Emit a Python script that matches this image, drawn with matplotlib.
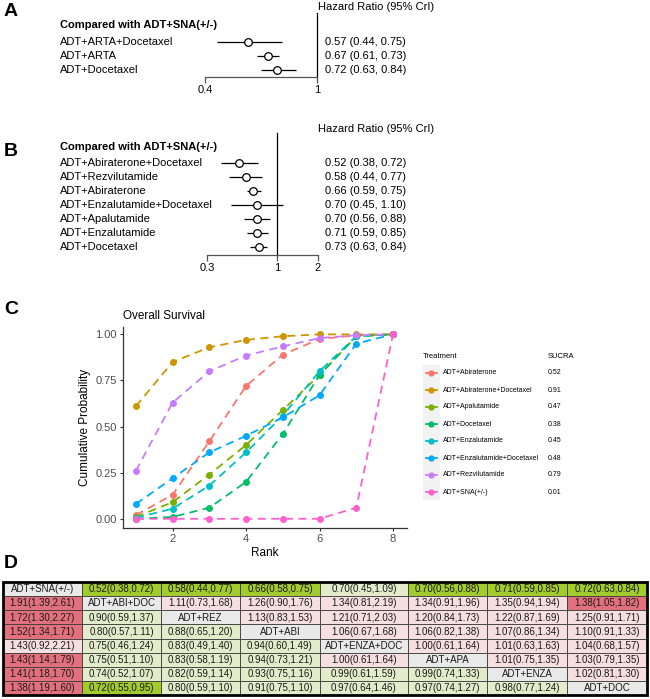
import re
import matplotlib
matplotlib.use('Agg')
import matplotlib.pyplot as plt
import matplotlib.transforms as mtransforms
from matplotlib.patches import Rectangle
from matplotlib.ticker import NullLocator

plt.rcParams['font.family'] = ['Liberation Sans', 'DejaVu Sans']

W, H = 650, 699

# ---- panel A data
a_labels = ['ADT+ARTA+Docetaxel', 'ADT+ARTA', 'ADT+Docetaxel']
a_hr = [0.57, 0.67, 0.72]
a_lo = [0.44, 0.61, 0.63]
a_hi = [0.75, 0.73, 0.84]

# ---- panel B data
b_labels = ['ADT+Abiraterone+Docetaxel', 'ADT+Rezvilutamide', 'ADT+Abiraterone',
            'ADT+Enzalutamide+Docetaxel', 'ADT+Apalutamide', 'ADT+Enzalutamide',
            'ADT+Docetaxel']
b_hr = [0.52, 0.58, 0.66, 0.70, 0.70, 0.71, 0.73]
b_lo = [0.38, 0.44, 0.59, 0.45, 0.56, 0.59, 0.63]
b_hi = [0.72, 0.77, 0.75, 1.10, 0.88, 0.85, 0.84]

# ---- panel C data
ranks = [1, 2, 3, 4, 5, 6, 7, 8]
treatments = ['ADT+Abiraterone', 'ADT+Abiraterone+Docetaxel', 'ADT+Apalutamide',
              'ADT+Docetaxel', 'ADT+Enzalutamide', 'ADT+Enzalutamide+Docetaxel',
              'ADT+Rezvilutamide', 'ADT+SNA(+/-)']
cum_abi = [0.02, 0.13, 0.42, 0.72, 0.89, 0.975, 0.995, 1.0]
cum_abi_doc = [0.61, 0.85, 0.93, 0.97, 0.99, 1.0, 1.0, 1.0]
cum_apa = [0.01, 0.09, 0.24, 0.40, 0.59, 0.78, 0.99, 1.0]
cum_doc = [0.0, 0.01, 0.06, 0.20, 0.46, 0.78, 0.99, 1.0]
cum_enza = [0.005, 0.055, 0.18, 0.36, 0.56, 0.80, 0.99, 1.0]
cum_enza_doc = [0.08, 0.22, 0.36, 0.45, 0.55, 0.67, 0.95, 1.0]
cum_rez = [0.26, 0.63, 0.80, 0.885, 0.935, 0.98, 0.995, 1.0]
cum_sna = [0.0, 0.0, 0.0, 0.0, 0.0, 0.0, 0.06, 1.0]
cum_probs = [cum_abi, cum_abi_doc, cum_apa, cum_doc, cum_enza, cum_enza_doc, cum_rez, cum_sna]
sucra = [0.52, 0.91, 0.47, 0.38, 0.45, 0.48, 0.79, 0.01]
hue = ['#F8766D', '#CD9600', '#7CAE00', '#00BE67', '#00BFC4', '#00A9FF', '#C77CFF', '#FF61CC']

# ---- panel D data
league = [
    ['ADT+SNA(+/-)', '0.52(0.38,0.72)', '0.58(0.44,0.77)', '0.66(0.58,0.75)', '0.70(0.45,1.09)', '0.70(0.56,0.88)', '0.71(0.59,0.85)', '0.72(0.63,0.84)'],
    ['1.91(1.39,2.61)', 'ADT+ABI+DOC', '1.11(0.73,1.68)', '1.26(0.90,1.76)', '1.34(0.81,2.19)', '1.34(0.91,1.96)', '1.35(0.94,1.94)', '1.38(1.05,1.82)'],
    ['1.72(1.30,2.27)', '0.90(0.59,1.37)', 'ADT+REZ', '1.13(0.83,1.53)', '1.21(0.71,2.03)', '1.20(0.84,1.73)', '1.22(0.87,1.69)', '1.25(0.91,1.71)'],
    ['1.52(1.34,1.71)', '0.80(0.57,1.11)', '0.88(0.65,1.20)', 'ADT+ABI', '1.06(0.67,1.68)', '1.06(0.82,1.38)', '1.07(0.86,1.34)', '1.10(0.91,1.33)'],
    ['1.43(0.92,2.21)', '0.75(0.46,1.24)', '0.83(0.49,1.40)', '0.94(0.60,1.49)', 'ADT+ENZA+DOC', '1.00(0.61,1.64)', '1.01(0.63,1.63)', '1.04(0.68,1.57)'],
    ['1.43(1.14,1.79)', '0.75(0.51,1.10)', '0.83(0.58,1.19)', '0.94(0.73,1.21)', '1.00(0.61,1.64)', 'ADT+APA', '1.01(0.75,1.35)', '1.03(0.79,1.35)'],
    ['1.41(1.18,1.70)', '0.74(0.52,1.07)', '0.82(0.59,1.14)', '0.93(0.75,1.16)', '0.99(0.61,1.59)', '0.99(0.74,1.33)', 'ADT+ENZA', '1.02(0.81,1.30)'],
    ['1.38(1.19,1.60)', '0.72(0.55,0.95)', '0.80(0.59,1.10)', '0.91(0.75,1.10)', '0.97(0.64,1.46)', '0.97(0.74,1.27)', '0.98(0.77,1.24)', 'ADT+DOC'],
]
col_widths = [79, 79, 79, 80, 88, 79, 80, 80]


def rect(x0, y0, x1, y1):
    return [x0 / W, 1 - y1 / H, (x1 - x0) / W, (y1 - y0) / H]


fig = plt.figure(figsize=(W / 100, H / 100), dpi=100)


def forest(box, labels, hr, lo, hi, ticks, row0, step, hdr_px, hrlab_px):
    x0, y0, x1, y1 = box
    ax = fig.add_axes(rect(*box))
    ax.set_xscale('log')
    rows = list(range(len(labels)))
    ax.hlines(rows, lo, hi, color='black', lw=0.9, clip_on=False)
    ax.plot(hr, rows, 'o', mfc='white', mec='black', ms=5.5, mew=0.9, zorder=3, clip_on=False)
    ax.axvline(1, color='black', lw=0.9, clip_on=False)
    ax.set_xlim(ticks[0], ticks[-1])
    ax.set_ylim((y1 - row0) / step, (y0 - row0) / step)
    for s in ['top', 'right', 'left']:
        ax.spines[s].set_visible(False)
    ax.spines['bottom'].set_linewidth(0.9)
    ax.spines['bottom'].set_color('#555555')
    ax.set_xticks(ticks)
    ax.set_xticklabels([f'{t:g}' for t in ticks], fontsize=8)
    ax.xaxis.set_minor_locator(NullLocator())
    ax.tick_params(axis='x', length=4, width=0.9, color='#555555', pad=2)
    ax.set_yticks([])
    ax.patch.set_visible(False)
    tr = mtransforms.blended_transform_factory(fig.transFigure, ax.transData)
    for i, lab in enumerate(labels):
        ax.text(60 / W, i, lab, transform=tr, ha='left', va='center', fontsize=8)
        ax.text(325 / W, i, f'{hr[i]:.2f} ({lo[i]:.2f}, {hi[i]:.2f})',
                transform=tr, ha='left', va='center', fontsize=8)
    ax.text(60 / W, (hdr_px - row0) / step, 'Compared with ADT+SNA(+/-)', transform=tr,
            ha='left', va='center', fontsize=8, fontweight='bold')
    ax.text(318 / W, (hrlab_px - row0) / step, 'Hazard Ratio (95% CrI)', transform=tr,
            ha='left', va='center', fontsize=8)
    return ax


forest((205, 13, 317, 77), a_labels, a_hr, a_lo, a_hi, [0.4, 1], 42, 14, 25, 7)
forest((207, 133, 318, 255), b_labels, b_hr, b_lo, b_hi, [0.3, 1, 2], 163, 14, 147, 129)

# panel letters
for letter, ypx in zip('ABCD', [11, 151, 310, 563]):
    fig.text(4 / W, 1 - ypx / H, letter, fontsize=14, fontweight='bold', va='center', ha='left')

# ---- panel C
axc = fig.add_axes(rect(123, 327, 407, 528))
for probs, col in zip(cum_probs, hue):
    axc.plot(ranks, probs, color=col, lw=1.3, dashes=(4.5, 3), marker='o', ms=4, clip_on=False)
axc.set_xlim(0.65, 8.38)
axc.set_ylim(-0.05, 1.04)
for s in ['top', 'right']:
    axc.spines[s].set_visible(False)
for s in ['left', 'bottom']:
    axc.spines[s].set_color('#333333')
    axc.spines[s].set_linewidth(0.9)
axc.set_xticks([2, 4, 6, 8])
axc.set_yticks([0, 0.25, 0.5, 0.75, 1.0])
axc.set_yticklabels(['0.00', '0.25', '0.50', '0.75', '1.00'])
axc.tick_params(labelsize=8, labelcolor='#4d4d4d', color='#333333', length=2.5, width=0.8, pad=2)
axc.set_xlabel('Rank', fontsize=8.5, labelpad=2)
axc.set_ylabel('Cumulative Probability', fontsize=8.5, labelpad=3)
axc.set_title('Overall Survival', loc='left', fontsize=8.5, pad=6)

# legend for C
axl = fig.add_axes(rect(415, 345, 610, 505))
axl.set_xlim(415, 610)
axl.set_ylim(505, 345)
axl.axis('off')
axl.add_patch(Rectangle((423, 365), 17, 135, color='#f2f2f2', lw=0))
axl.text(423, 357, 'Treatment', fontsize=5.5, va='center', ha='left')
axl.text(548, 357, 'SUCRA', fontsize=5.5, va='center', ha='left')
for i, (name, col, s) in enumerate(zip(treatments, hue, sucra)):
    yy = 373 + 17 * i
    axl.plot([426, 437], [yy, yy], color=col, lw=1.3)
    axl.plot([431.5], [yy], 'o', color=col, ms=3.5)
    axl.text(443, yy, name, fontsize=5, va='center', ha='left')
    axl.text(548, yy, f'{s:.2f}', fontsize=5, va='center', ha='left')

# ---- panel D league table
axd = fig.add_axes(rect(3, 582, 647, 695))
total_w = sum(col_widths)
nrow = len(league)
axd.set_xlim(0, total_w)
axd.set_ylim(nrow, 0)
axd.axis('off')

num_re = re.compile(r'([\d.]+)\(([\d.]+),([\d.]+)\)')


def cell_color(txt, i, j):
    if i == j:
        return '#e9e9e9'
    m = num_re.match(txt)
    hr, lo, hi = (float(v) for v in m.groups())
    sig = lo > 1 or hi < 1
    if hr < 1:
        return '#a2cb2e' if sig else '#e4ebca'
    return '#e3707d' if sig else '#f6dfe0'


edges = [0]
for w in col_widths:
    edges.append(edges[-1] + w)
for i, row in enumerate(league):
    for j, txt in enumerate(row):
        axd.add_patch(Rectangle((edges[j], i), col_widths[j], 1, facecolor=cell_color(txt, i, j),
                                edgecolor='#3a3a3a', lw=0.6))
        axd.text(edges[j] + col_widths[j] / 2, i + 0.52, txt, ha='center', va='center', fontsize=7,
                 color='#1a1a1a')
axd.add_patch(Rectangle((0, 0), total_w, nrow, fill=False, edgecolor='black', lw=2, clip_on=False))

fig.savefig('out.png', dpi=100)
